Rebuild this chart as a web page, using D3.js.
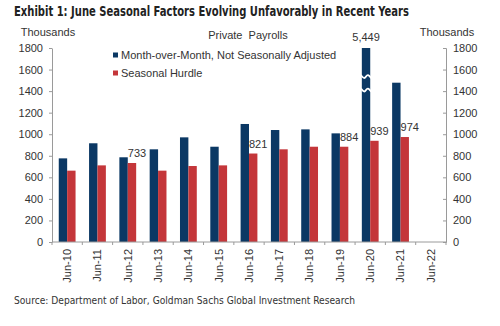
<!DOCTYPE html>
<html>
<head>
<meta charset="utf-8">
<script src="https://cdn.jsdelivr.net/npm/d3@7"></script>
<style>
  body { margin: 0; background: #fff; }
  svg { display: block; font-family: "Liberation Sans", Arial, sans-serif; }
</style>
</head>
<body>
<svg id="chart" width="500" height="326"></svg>
<script>
// June private payrolls (thousands): raw NSA change vs seasonal hurdle
const months = ['Jun-10', 'Jun-11', 'Jun-12', 'Jun-13', 'Jun-14', 'Jun-15', 'Jun-16',
                'Jun-17', 'Jun-18', 'Jun-19', 'Jun-20', 'Jun-21', 'Jun-22'];
const nsaChange = [776, 916, 786, 860, 971, 884, 1095, 1039, 1045, 1008, 5449, 1478, null];
const hurdle = [662, 711, 733, 662, 705, 711, 821, 860, 884, 884, 939, 974, null];
const labelledHurdles = ['Jun-12', 'Jun-16', 'Jun-19', 'Jun-20', 'Jun-21'];
const yTicks = [0, 200, 400, 600, 800, 1000, 1200, 1400, 1600, 1800];

(function() {

  const navy = '#0b3864';
  const red = '#c4363a';
  const axisGrey = '#9a9a9a';
  const textColor = '#333';

  let svg = d3.select('#chart');

  let plotLeft = 52, plotRight = 446, plotTop = 48, plotBottom = 242;
  let yMax = 1800;

  let xScale = d3.scaleBand().domain(months).range([plotLeft, plotRight]);
  let yScale = d3.scaleLinear().domain([0, yMax]).range([plotBottom, plotTop]);
  let barW = 8.4;

  // title
  svg.append('text')
    .attr('x', 14).attr('y', 16)
    .attr('font-family', '"DejaVu Sans Condensed", "DejaVu Sans", sans-serif')
    .attr('font-weight', 'bold')
    .attr('font-size', '13.5px')
    .attr('fill', '#222')
    .attr('textLength', 395)
    .attr('lengthAdjust', 'spacingAndGlyphs')
    .text('Exhibit 1: June Seasonal Factors Evolving Unfavorably in Recent Years');

  // source line
  svg.append('text')
    .attr('x', 14).attr('y', 304)
    .attr('font-family', '"DejaVu Sans Condensed", "DejaVu Sans", sans-serif')
    .attr('font-size', '11px')
    .attr('fill', '#333')
    .attr('textLength', 341)
    .attr('lengthAdjust', 'spacingAndGlyphs')
    .text('Source: Department of Labor, Goldman Sachs Global Investment Research');

  // unit labels and chart heading
  svg.append('text')
    .attr('x', 48).attr('y', 36)
    .attr('text-anchor', 'middle')
    .attr('font-size', '11px').attr('fill', textColor)
    .text('Thousands');
  svg.append('text')
    .attr('x', 447).attr('y', 36)
    .attr('text-anchor', 'middle')
    .attr('font-size', '11px').attr('fill', textColor)
    .text('Thousands');
  svg.append('text')
    .attr('x', 248).attr('y', 39)
    .attr('text-anchor', 'middle')
    .attr('font-size', '11px').attr('fill', textColor)
    .attr('xml:space', 'preserve')
    .text('Private  Payrolls');

  // y axes
  function styleAxis(g) {
    g.selectAll('path, line').attr('stroke', axisGrey);
    g.selectAll('text').attr('fill', textColor).attr('font-size', '11px')
      .attr('font-family', '"Liberation Sans", Arial, sans-serif');
  }

  svg.append('g')
    .attr('transform', `translate(${plotLeft}, 0)`)
    .call(d3.axisLeft(yScale).tickValues(yTicks).tickFormat(d3.format('d'))
      .tickSize(3).tickSizeOuter(0).tickPadding(6))
    .call(styleAxis);

  svg.append('g')
    .attr('transform', `translate(${plotRight}, 0)`)
    .call(d3.axisRight(yScale).tickValues(yTicks).tickFormat(d3.format('d'))
      .tickSize(-3).tickSizeOuter(-3).tickPadding(7))
    .call(styleAxis);

  // bars
  let groups = svg.append('g').selectAll('g')
    .data(months.map((m, i) => ({ month: m, nsa: nsaChange[i], hurdle: hurdle[i] })))
    .join('g')
    .attr('transform', (d) => `translate(${xScale(d.month) + xScale.bandwidth() / 2}, 0)`);

  groups.filter((d) => d.nsa != null).append('rect')
    .attr('x', -barW)
    .attr('width', barW)
    .attr('y', (d) => yScale(Math.min(d.nsa, yMax)))
    .attr('height', (d) => plotBottom - yScale(Math.min(d.nsa, yMax)))
    .attr('fill', navy);

  groups.filter((d) => d.hurdle != null).append('rect')
    .attr('x', 0)
    .attr('width', barW)
    .attr('y', (d) => yScale(d.hurdle))
    .attr('height', (d) => plotBottom - yScale(d.hurdle))
    .attr('fill', red);

  // axis-break marks on the bar that runs off the scale
  let wave = d3.line().curve(d3.curveBasis);
  groups.filter((d) => d.nsa > yMax).each(function() {
    let g = d3.select(this);
    [1535, 1410].forEach((v) => {
      let y = yScale(v);
      g.append('path')
        .attr('d', wave([[-barW - 1, y - 1.5], [-barW - 1, y - 1.5], [-barW * 0.7, y + 2.5],
                         [-barW * 0.5, y], [-barW * 0.3, y - 2.5], [1, y + 1.5], [1, y + 1.5]]))
        .attr('fill', 'none')
        .attr('stroke', '#fff')
        .attr('stroke-width', 1.8);
    });
    g.append('text')
      .attr('x', -barW / 2)
      .attr('y', yScale(yMax) - 7)
      .attr('text-anchor', 'middle')
      .attr('font-size', '11px').attr('fill', textColor)
      .text((d) => d3.format(',')(d.nsa));
  });

  // value labels on selected hurdle bars
  groups.filter((d) => labelledHurdles.includes(d.month)).append('text')
    .attr('x', 0)
    .attr('y', (d) => yScale(d.hurdle) - 6)
    .attr('font-size', '11px').attr('fill', textColor)
    .text((d) => d.hurdle);

  // x axis: baseline, boundary ticks and rotated labels
  let xAxis = svg.append('g');
  xAxis.append('line')
    .attr('x1', plotLeft).attr('x2', plotRight)
    .attr('y1', plotBottom).attr('y2', plotBottom)
    .attr('stroke', axisGrey);
  xAxis.selectAll('line.tick')
    .data(months.concat(['end']))
    .join('line')
    .attr('class', 'tick')
    .attr('x1', (d, i) => plotLeft + i * xScale.step())
    .attr('x2', (d, i) => plotLeft + i * xScale.step())
    .attr('y1', plotBottom).attr('y2', plotBottom + 3)
    .attr('stroke', axisGrey);
  xAxis.selectAll('text')
    .data(months)
    .join('text')
    .attr('transform', (d) => `translate(${xScale(d) + xScale.bandwidth() / 2}, 249) rotate(-90)`)
    .attr('text-anchor', 'end')
    .attr('dy', '0.35em')
    .attr('font-size', '11px').attr('fill', textColor)
    .text((d) => d);

  // legend
  let legend = svg.append('g').attr('transform', 'translate(113, 0)');
  [['Month-over-Month, Not Seasonally Adjusted', navy, 55], ['Seasonal Hurdle', red, 73]]
    .forEach(([label, color, y]) => {
      legend.append('rect')
        .attr('x', 0).attr('y', y - 2.5)
        .attr('width', 5).attr('height', 5)
        .attr('fill', color);
      legend.append('text')
        .attr('x', 8).attr('y', y)
        .attr('dy', '0.35em')
        .attr('font-size', '11px').attr('fill', textColor)
        .text(label);
    });

})();
</script>
</body>
</html>
